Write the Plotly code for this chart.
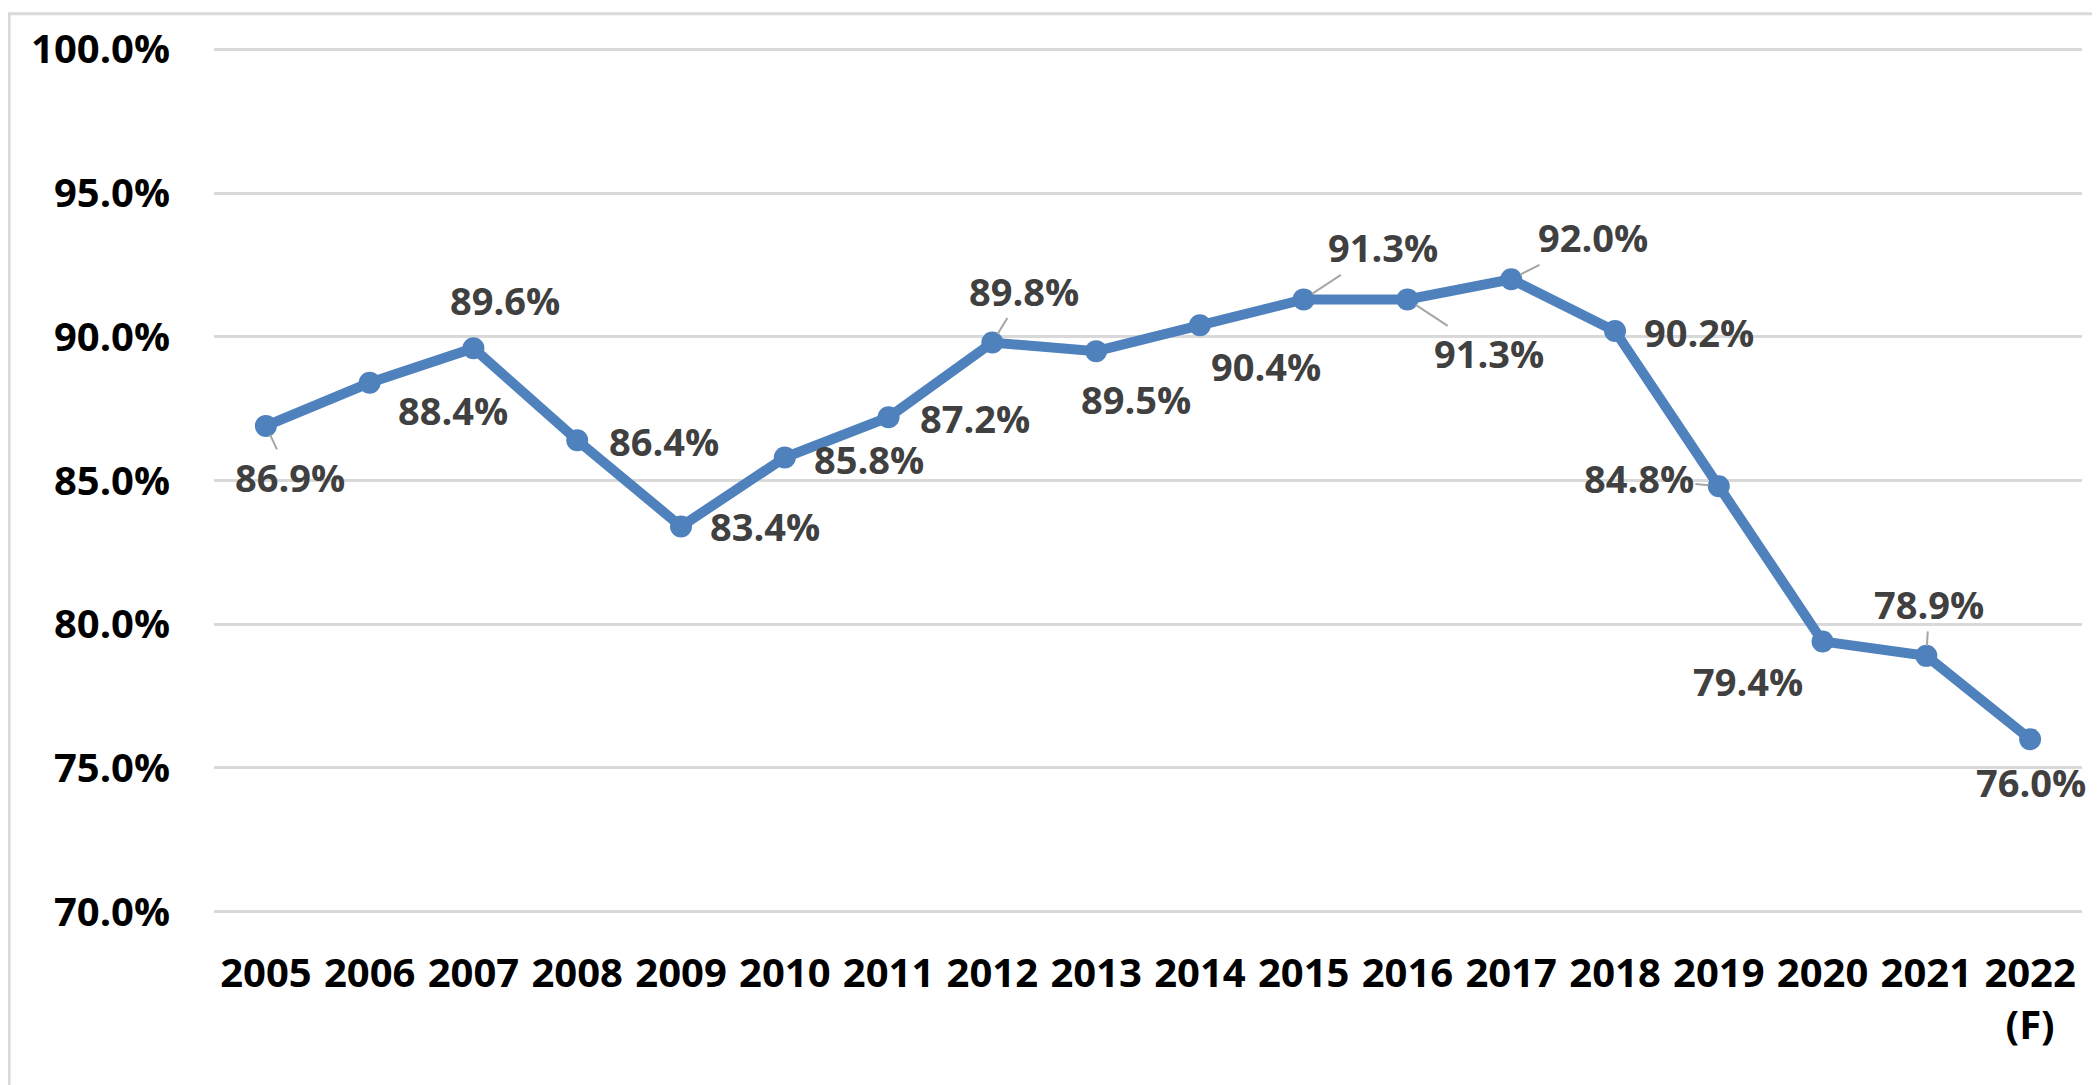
import plotly.graph_objects as go

# ---- data ----
years = ["2005", "2006", "2007", "2008", "2009", "2010", "2011", "2012", "2013",
         "2014", "2015", "2016", "2017", "2018", "2019", "2020", "2021", "2022<br>(F)"]
values = [86.9, 88.4, 89.6, 86.4, 83.4, 85.8, 87.2, 89.8, 89.5,
          90.4, 91.3, 91.3, 92.0, 90.2, 84.8, 79.4, 78.9, 76.0]
y_ticks = [70, 75, 80, 85, 90, 95, 100]
y_tick_labels = ["70.0%", "75.0%", "80.0%", "85.0%", "90.0%", "95.0%", "100.0%"]

# label placement (pixel offsets from point) and whether a leader line is shown
label_dx = [24, 83, 32, 87, 84, 84, 86, 32, 40, 66, 79, 82, 82, 84, -80, -75, 3, 1]
label_dy = [51, 27, -48, 1, 0, 1, 1, -52, 48, 41, -52, 54, -42, 1, -8, 40, -52, 43]
leader = [True, False, False, False, False, False, False, True, False, False,
          True, True, True, False, True, False, True, False]

LINE_COLOR = "#4F81BD"
FONT = "Open Sans"

fig = go.Figure()
fig.add_trace(go.Scatter(
    x=years, y=values, mode="lines+markers",
    line=dict(color=LINE_COLOR, width=10),
    marker=dict(color=LINE_COLOR, size=22),
    hoverinfo="skip", showlegend=False,
))

annotations = []
for i, (v, dx, dy, ld) in enumerate(zip(values, label_dx, label_dy, leader)):
    annotations.append(dict(
        x=i, y=v, xref="x", yref="y",
        text=f"{v:.1f}%",
        showarrow=True, ax=dx, ay=dy,
        arrowhead=0, arrowwidth=2,
        arrowcolor="#A6A6A6" if ld else "rgba(0,0,0,0)",
        standoff=10,
        font=dict(family=FONT, size=38, color="#404040", weight="bold"),
        xanchor="center", yanchor="middle",
    ))

fig.update_layout(
    width=2100, height=1085,
    margin=dict(l=206, r=26, t=33, b=177),
    paper_bgcolor="white", plot_bgcolor="white",
    annotations=annotations,
    shapes=[dict(type="rect", xref="paper", yref="paper",
                 x0=-0.1097, x1=1.007, y0=-0.26, y1=1.036,
                 line=dict(color="#D9D9D9", width=3), fillcolor="rgba(0,0,0,0)",
                 layer="below")],
)
fig.update_xaxes(
    type="category", range=[-0.5, len(years) - 0.5], autorange=False,
    showgrid=False, showline=False, zeroline=False,
    tickfont=dict(family=FONT, size=40, color="black", weight="bold"),
    ticks="", ticklabelstandoff=30,
)
fig.update_yaxes(
    range=[69.85, 100.15], autorange=False,
    tickmode="array", tickvals=y_ticks, ticktext=y_tick_labels,
    showgrid=True, gridcolor="#D9D9D9", gridwidth=2.5,
    showline=False, zeroline=False, ticks="",
    tickfont=dict(family=FONT, size=40, color="black", weight="bold"),
    ticklabelstandoff=43,
)

fig.write_html("out.html")
